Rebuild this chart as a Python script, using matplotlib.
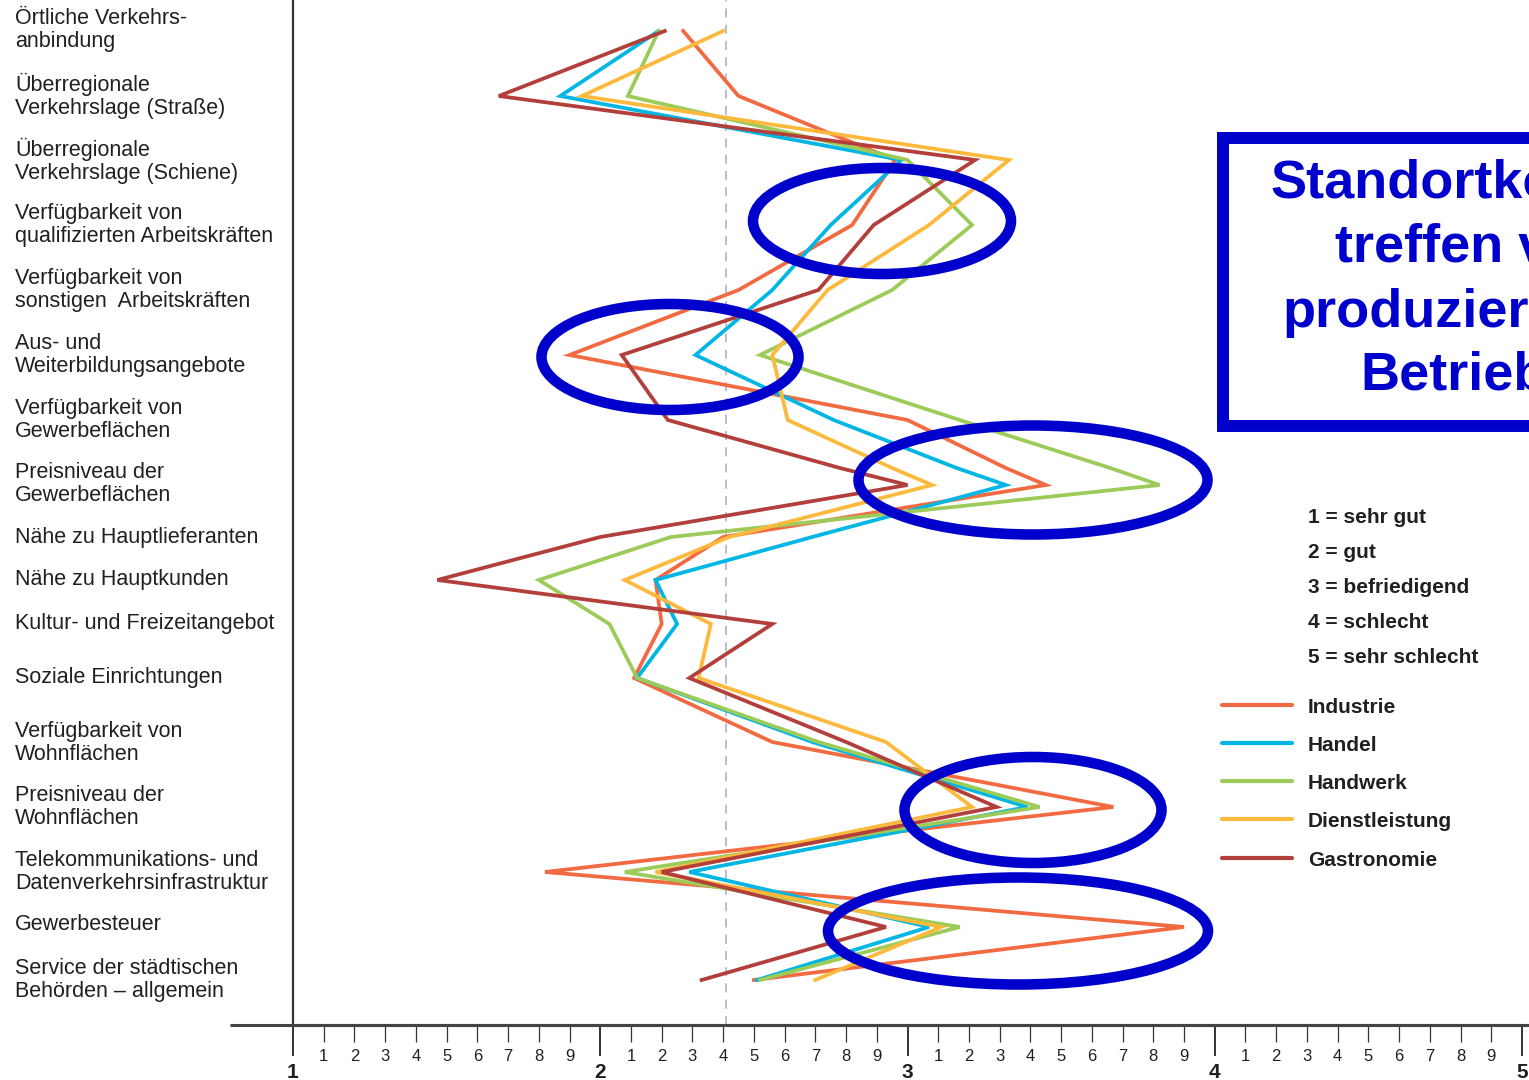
import matplotlib
matplotlib.use("Agg")
import matplotlib.pyplot as plt
from matplotlib.patches import Ellipse, Rectangle
from matplotlib.lines import Line2D

plt.rcParams['font.family'] = ['Liberation Sans', 'DejaVu Sans']

# ---- DATA ----
categories = [
    "Örtliche Verkehrs-\nanbindung",
    "Überregionale\nVerkehrslage (Straße)",
    "Überregionale\nVerkehrslage (Schiene)",
    "Verfügbarkeit von\nqualifizierten Arbeitskräften",
    "Verfügbarkeit von\nsonstigen  Arbeitskräften",
    "Aus- und\nWeiterbildungsangebote",
    "Verfügbarkeit von\nGewerbeflächen",
    "Preisniveau der\nGewerbeflächen",
    "Nähe zu Hauptlieferanten",
    "Nähe zu Hauptkunden",
    "Kultur- und Freizeitangebot",
    "Soziale Einrichtungen",
    "Verfügbarkeit von\nWohnflächen",
    "Preisniveau der\nWohnflächen",
    "Telekommunikations- und\nDatenverkehrsinfrastruktur",
    "Gewerbesteuer",
    "Service der städtischen\nBehörden – allgemein",
]

# vertical position of every vertex (source rows, top = 0); the source has a
# splice just above "Preisniveau der Gewerbeflächen" which adds one kink row
row_y = [31, 96, 160, 225, 290, 355, 420, 468, 485,
         537, 580, 624, 678, 742, 807, 872, 927, 980]
label_y = [30, 96, 161, 225, 290, 355, 420, 484,
           537, 580, 623, 677, 743, 807, 872, 925, 980]

series_names = ["Industrie", "Handel", "Handwerk", "Dienstleistung", "Gastronomie"]
industrie = [2.27, 2.45, 2.96, 2.82, 2.45, 1.90, 3.00, 3.32, 3.45,
             2.40, 2.18, 2.20, 2.11, 2.56, 3.67, 1.82, 3.90, 2.50]
handel = [2.19, 1.87, 2.98, 2.75, 2.56, 2.31, 2.76, 3.16, 3.32,
          2.69, 2.18, 2.25, 2.12, 2.69, 3.39, 2.29, 3.07, 2.51]
handwerk = [2.19, 2.09, 3.00, 3.21, 2.95, 2.52, 3.17, 3.66, 3.82,
            2.23, 1.80, 2.03, 2.12, 2.71, 3.43, 2.08, 3.17, 2.52]
dienstleistung = [2.40, 1.94, 3.33, 3.07, 2.74, 2.56, 2.61, 2.95, 3.08,
                  2.42, 2.08, 2.36, 2.32, 2.93, 3.21, 2.18, 3.11, 2.70]
gastronomie = [2.21, 1.67, 3.22, 2.89, 2.71, 2.07, 2.22, 2.78, 3.00,
               2.00, 1.47, 2.56, 2.29, 2.80, 3.29, 2.20, 2.93, 2.33]
mean_rating = 2.41

grade_notes = ["1 = sehr gut", "2 = gut", "3 = befriedigend",
               "4 = schlecht", "5 = sehr schlecht"]
box_lines = ["Standortkosten", "treffen vor", "produzierende", "Betriebe"]

major_ticks = [1, 2, 3, 4, 5]
minor_ticks = [round(i + k / 10, 1) for i in range(1, 5) for k in range(1, 10)]
minor_labels = [str(k) for i in range(1, 5) for k in range(1, 10)]

# ---- STYLE ----
COLORS = ["#F26A41", "#00B6E4", "#9CCB59", "#FDB93C", "#B23F3A"]
BLUE = "#0000CC"
TXT = "#231F20"

W, H = 1529, 1080
X1, X5 = 293, 1522
AXIS_Y = 1025

fig = plt.figure(figsize=(W / 100, H / 100), dpi=100)
ax = fig.add_axes([X1 / W, (H - AXIS_Y) / H, (X5 - X1) / W, AXIS_Y / H])
ax.set_xlim(1, 5)
ax.set_ylim(AXIS_Y, 0)
ax.patch.set_alpha(0)

for s in ["top", "right"]:
    ax.spines[s].set_visible(False)
ax.spines["left"].set_color("#333333")
ax.spines["left"].set_linewidth(1.6)
ax.spines["bottom"].set_color("#444444")
ax.spines["bottom"].set_linewidth(2.2)
ax.set_yticks([])

ax.set_xticks(major_ticks)
ax.set_xticklabels([str(t) for t in major_ticks], fontsize=15, fontweight="bold", color=TXT)
ax.set_xticks(minor_ticks, minor=True)
ax.set_xticklabels(minor_labels, minor=True, fontsize=12, color=TXT)
ax.tick_params(axis="x", which="major", direction="out", length=22, width=1.4,
               color="#333333", pad=5)
ax.tick_params(axis="x", which="minor", direction="out", length=12, width=0.9,
               color="#333333", pad=5)

ax.axvline(mean_rating, color="#B8B8CC", lw=1.3, ls=(0, (5, 4)), zorder=1)

all_series = [industrie, handel, handwerk, dienstleistung, gastronomie]
for vals, col in zip(all_series, COLORS):
    ax.plot(vals, row_y, color=col, lw=2.7, solid_joinstyle="miter", zorder=2)

# ---- OVERLAY (pixel coordinates) ----
ov = fig.add_axes([0, 0, 1, 1])
ov.set_xlim(0, W)
ov.set_ylim(H, 0)
ov.axis("off")
ov.patch.set_alpha(0)

ov.plot([230, W], [AXIS_Y, AXIS_Y], color="#444444", lw=2.2, solid_capstyle="butt")

for lab, y in zip(categories, label_y):
    ov.text(15, y, lab, ha="left", va="center", fontsize=15.5, color=TXT,
            linespacing=1.08)

# highlight ellipses
for cx, cy, w, h in [(882, 221, 258, 106), (670, 357, 257, 106),
                     (1033, 480, 349, 109), (1033, 810, 257, 106),
                     (1018, 931, 380, 107)]:
    ov.add_patch(Ellipse((cx, cy), w, h, fill=False, ec=BLUE, lw=7.6, zorder=5))

# statement box (runs off the right edge like the source)
ov.add_patch(Rectangle((1223, 138), 500, 288, fill=False, ec=BLUE, lw=8.6,
                       joinstyle="miter", capstyle="projecting", zorder=5))
for txt, by in zip(box_lines, [198, 262, 327, 390]):
    ov.text(1469, by, txt, ha="center", va="baseline", fontsize=39,
            fontweight="bold", color=BLUE)

# grade notes
for txt, by in zip(grade_notes, [523, 558, 593, 628, 663]):
    ov.text(1308, by, txt, ha="left", va="baseline", fontsize=15,
            fontweight="bold", color=TXT)

# legend
for name, col, ly in zip(series_names, COLORS, [705, 743, 781, 819, 858]):
    ov.add_line(Line2D([1222, 1292], [ly, ly], color=col, lw=3, solid_capstyle="round"))
    ov.text(1308, ly + 8, name, ha="left", va="baseline", fontsize=15,
            fontweight="bold", color=TXT)

fig.savefig("out.png", dpi=100)
